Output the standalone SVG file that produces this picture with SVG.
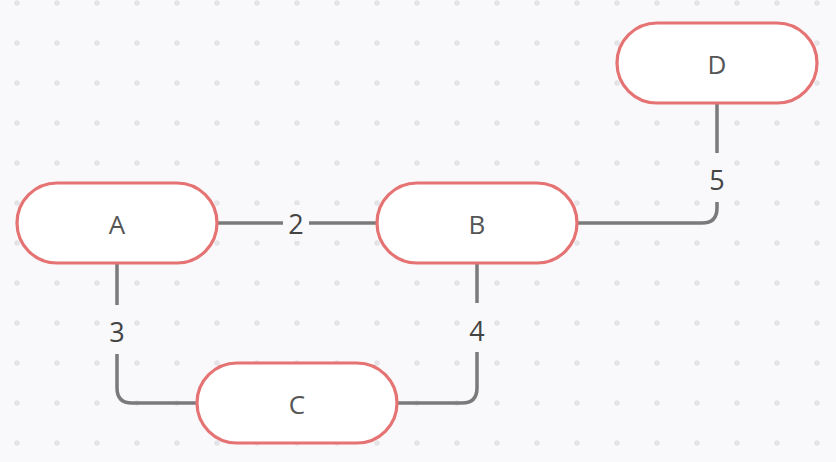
<svg xmlns="http://www.w3.org/2000/svg" width="836" height="462" viewBox="0 0 836 462">
<defs>
<pattern id="dots" x="0" y="0" width="40" height="40" patternUnits="userSpaceOnUse">
<circle cx="17" cy="3" r="2.8" fill="#e4e4e8"/>
</pattern>
<style>
.node rect{fill:#ffffff;stroke:#e57373;stroke-width:3.2}
.node text{font-family:"Open Sans","Noto Sans",sans-serif;font-size:26px;fill:#555555;text-anchor:middle;dominant-baseline:central}
.edge{fill:none;stroke:#7a7a7a;stroke-width:3.5}
.lbl rect{fill:#f9f9fb}
.lbl text{font-family:"Open Sans","Noto Sans",sans-serif;font-size:27px;fill:#444444;text-anchor:middle;dominant-baseline:central}
</style>
</defs>
<rect width="836" height="462" fill="#f9f9fb"/>
<rect width="836" height="462" fill="url(#dots)"/>
<g id="connectors">
<path class="edge" d="M217 223 H377"/>
<path class="edge" d="M117 263 V388 Q117 403 132 403 H197"/>
<path class="edge" d="M397 403 H462 Q477 403 477 388 V263"/>
<path class="edge" d="M577 223 H702 Q717 223 717 208 V103"/>
<g class="lbl"><rect x="283" y="205" width="26" height="36"/><text x="296" y="223">2</text></g>
<g class="lbl"><rect x="103" y="305" width="28" height="49"/><text x="117" y="331">3</text></g>
<g class="lbl"><rect x="463" y="303" width="28" height="49"/><text x="477" y="330">4</text></g>
<g class="lbl"><rect x="703" y="153" width="28" height="49"/><text x="717" y="179">5</text></g>
</g>
<g id="node-A" class="node"><rect x="17" y="183" width="200" height="80" rx="40"/><text x="117" y="224">A</text></g>
<g id="node-B" class="node"><rect x="377" y="183" width="200" height="80" rx="40"/><text x="477" y="224">B</text></g>
<g id="node-C" class="node"><rect x="197" y="363" width="200" height="80" rx="40"/><text x="297" y="404">C</text></g>
<g id="node-D" class="node"><rect x="617" y="23" width="200" height="80" rx="40"/><text x="717" y="64">D</text></g>
</svg>
